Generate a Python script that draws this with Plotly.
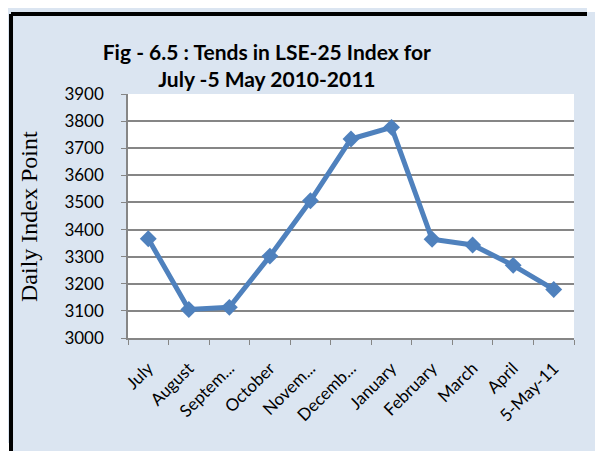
import plotly.graph_objects as go

months = ["July", "August", "Septem...", "October", "Novem...", "Decemb...",
          "January", "February", "March", "April", "5-May-11"]
index_points = [3366, 3105, 3113, 3302, 3506, 3734, 3777, 3364, 3343, 3268, 3179]
y_ticks = list(range(3000, 4000, 100))

fig = go.Figure(go.Scatter(
    x=months, y=index_points,
    mode="lines+markers",
    line=dict(color="#4f81bd", width=5),
    marker=dict(symbol="diamond", size=13, color="#4f81bd"),
))

# figure sized to sit inside the page's default 8px body margin
fig.update_layout(
    width=587, height=435,
    margin=dict(l=120, r=21, t=86, b=105),
    paper_bgcolor="#dbe5f1",
    plot_bgcolor="white",
    showlegend=False,
    font=dict(family="Lato", size=17, color="black"),
    title=dict(
        text="<b>Fig - 6.5 : Tends in LSE-25 Index for<br>July -5 May 2010-2011</b>",
        x=0.441, xref="container", xanchor="center",
        y=0.8805, yref="container", yanchor="middle",
        font=dict(family="Lato", size=21, color="black"),
    ),
    annotations=[dict(
        text="Daily Index Point", textangle=-90,
        x=-0.222, xref="paper", xanchor="center",
        y=0.5, yref="paper", yanchor="middle",
        showarrow=False,
        font=dict(family="Liberation Serif", size=24, color="black"),
    )],
    shapes=[
        dict(type="line", xref="paper", yref="paper",
             x0=-0.2623, x1=1.04, y0=1.3279, y1=1.3279,
             line=dict(color="black", width=4)),
        dict(type="line", xref="paper", yref="paper",
             x0=-0.2623, x1=-0.2623, y0=-0.43, y1=1.3279,
             line=dict(color="black", width=4)),
    ],
)

fig.update_xaxes(
    type="category", range=[-0.5, 10.5],
    tickangle=-45, tickson="boundaries",
    ticks="outside", ticklen=5, tickcolor="#868686",
    ticklabelstandoff=12,
    showline=True, linecolor="#868686", linewidth=1.5,
    showgrid=False,
)
fig.update_yaxes(
    range=[3000, 3900], tickvals=y_ticks,
    ticks="outside", ticklen=5, tickcolor="#868686",
    ticklabelstandoff=14,
    showline=True, linecolor="#868686", linewidth=1.5,
    gridcolor="#868686", gridwidth=1.5,
    zeroline=False,
)

# page background continues the blue panel and its frame past the figure edge
page_bg = ("linear-gradient(to bottom, white 12px, transparent 12px), "
           "linear-gradient(to right, white 9px, black 9px, black 13px, #dbe5f1 13px)")
fig.write_html(
    "out.html",
    config={"displayModeBar": False},
    post_script="document.documentElement.style.background='%s';"
                "document.documentElement.style.minHeight='100%%';" % page_bg,
)
